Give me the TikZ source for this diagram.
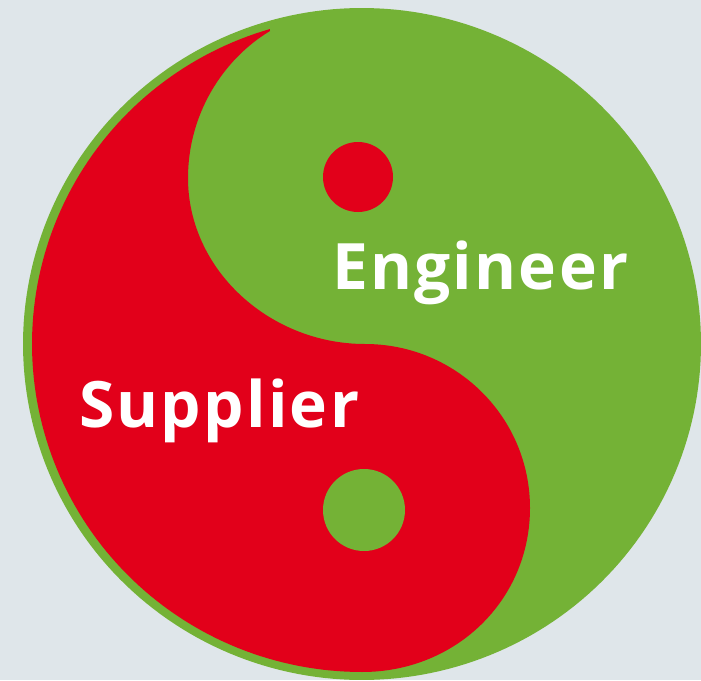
\documentclass[tikz,border=0pt]{standalone}
\usepackage{fontspec}
\setmainfont{Open Sans}[LetterSpace=3.5]
\definecolor{bgc}{HTML}{DFE6EA}
\definecolor{grn}{HTML}{74B236}
\definecolor{rd}{HTML}{E2001A}
\begin{document}
\begin{tikzpicture}[x=1pt,y=-1pt,
 lbl/.style={text=white,font=\bfseries\fontsize{64}{64}\selectfont,inner sep=0pt,anchor=base west}]
\useasboundingbox (0,0) rectangle (701,680);
\fill[bgc] (0,0) rectangle (701,680);
\fill[grn] plot[domain=0:360,samples=240] ({362+339*cos(\x)},{344+336*sin(\x)}) -- cycle;
\fill[rd] plot[domain=253.8:90,samples=120] ({362+330*cos(\x)},{344+328*sin(\x)})
 .. controls (456,672) and (530,600) .. (530,508)
 .. controls (530,417) and (456,344) .. (365,344)
 .. controls (270,344) and (188,270) .. (188,178)
 .. controls (188,115) and (222,60) .. (270,31) -- cycle;
\fill[rd] (358,177) circle (35);
\fill[grn] (364,510) circle (41);
\node[lbl] (e) at (332,289) {Engineer};
\node[lbl] (s) at (79,427) {Supplier};
\end{tikzpicture}
\end{document}
